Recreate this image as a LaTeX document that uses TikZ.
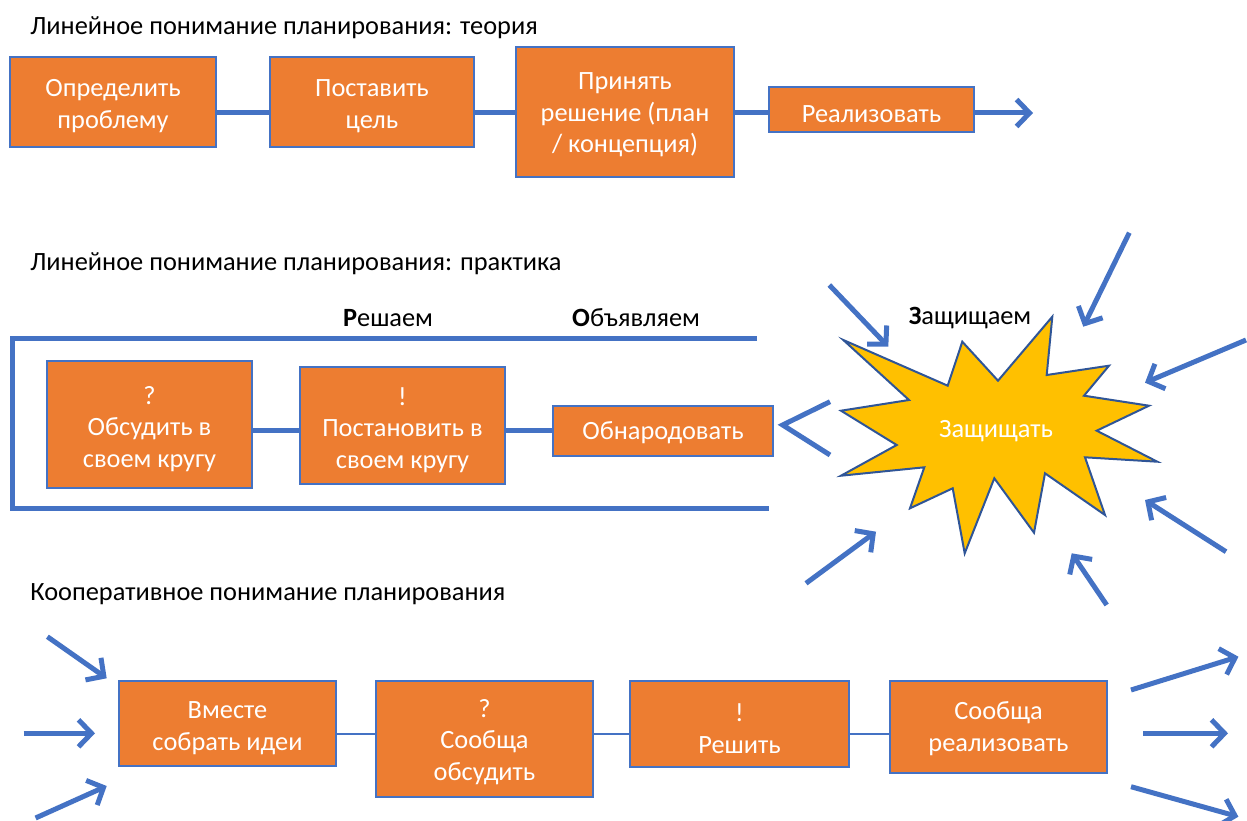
\documentclass[tikz,border=0pt]{standalone}
\usepackage{fontspec}
\setmainfont{Carlito}
\usetikzlibrary{arrows.meta}
\definecolor{boxor}{HTML}{ED7D31}
\definecolor{lnblue}{HTML}{4472C4}
\definecolor{stary}{HTML}{FFC000}
\definecolor{stard}{HTML}{2F5597}
\begin{document}
\begin{tikzpicture}[x=0.2mm,y=-0.2mm,
  every node/.style={font=\fontsize{15}{17.9}\selectfont},
  obox/.style={draw=lnblue, line width=0.35mm, fill=boxor, inner sep=0pt},
  btxt/.style={text=white, align=center, inner sep=0pt},
  conn/.style={draw=lnblue, line width=1mm},
  thinconn/.style={draw=lnblue, line width=0.3mm},
  arr/.style={draw=lnblue, line width=1mm, -{Straight Barb[length=2.6mm,width=5.4mm]}},
  ttl/.style={anchor=west, text=black, inner sep=0pt},
  lbl/.style={text=black, inner sep=0pt},
]
\useasboundingbox (0,0) rectangle (1247,821);

% ---------- Section 1 ----------
\node[ttl] (titleA) at (30,28) {Линейное понимание планирования: теория};
\node[obox, minimum width=41.2mm, minimum height=18mm] (A) at (113,102) {};
\node[obox, minimum width=40.8mm, minimum height=18mm] (B) at (372,102) {};
\node[obox, minimum width=43.6mm, minimum height=26mm] (C) at (625,112) {};
\node[obox, minimum width=41mm, minimum height=9mm] (D) at (871.5,109.5) {};
\node[btxt] (At) at ([yshift=-0.8mm]A.center) {Определить\\проблему};
\node[btxt] (Bt) at ([yshift=-0.8mm]B.center) {Поставить\\цель};
\node[btxt] (Ct) at ([yshift=-0.6mm]C.center) {Принять\\решение (план\\/ концепция)};
\node[btxt] (Dt) at ([yshift=-0.9mm]D.center) {Реализовать};
\coordinate (ly1) at (0,113);
\coordinate (endD) at (1033,113);
\draw[conn] (A.east |- ly1) -- (B.west |- ly1);
\draw[conn] (B.east |- ly1) -- (C.west |- ly1);
\draw[conn] (C.east |- ly1) -- (D.west |- ly1);
\draw[arr] (D.east |- ly1) -- (endD);

% ---------- Section 2 ----------
\node[ttl] (titleB) at (30,264) {Линейное понимание планирования: практика};
\node[lbl] (lblR) at (388,318) {\textbf{Р}ешаем};
\node[lbl] (lblO) at (636,318) {\textbf{О}бъявляем};
\coordinate (brTop) at (757,338);
\coordinate (brTL) at (12,338);
\coordinate (brBL) at (12,508);
\coordinate (brBot) at (769,508);
\draw[conn] (brTop) -- (brTL) -- (brBL) -- (brBot);
\node[obox, minimum width=41mm, minimum height=25.4mm] (E) at (149.5,424.5) {};
\node[obox, minimum width=41mm, minimum height=23.4mm] (F) at (402.5,425.5) {};
\node[obox, minimum width=44mm, minimum height=10mm] (G) at (663,431) {};
\node[btxt] (Et) at ([yshift=-0.9mm]E.center) {?\\Обсудить в\\своем кругу};
\node[btxt] (Ft) at ([yshift=-0.9mm]F.center) {!\\Постановить в\\своем кругу};
\node[btxt] (Gt) at ([yshift=-0.4mm]G.center) {Обнародовать};
\coordinate (ly2) at (0,430.5);
\draw[conn] (E.east |- ly2) -- (F.west |- ly2);
\draw[conn] (F.east |- ly2) -- (G.west |- ly2);

% chevron in front of the star
\coordinate (chA) at (830,401.7);
\coordinate (chB) at (782.7,425);
\coordinate (chC) at (830,455);
\draw[conn] (chA) -- (chB) -- (chC);

% star
\draw[draw=stard, line width=0.4mm, fill=stary, line join=miter]
  (843.3,340) -- (947.7,385.7) -- (962.3,341.7) -- (998,380.7) -- (1052.3,316.7)
  -- (1046.7,375) -- (1109,365.7) -- (1084,395.7) -- (1149,405.7) -- (1096.7,430.7)
  -- (1157.3,461.7) -- (1085,457.3) -- (1105,515) -- (1045,473.3) -- (1034,532.7)
  -- (994.3,478.3) -- (964.7,553.3) -- (952.7,488.3) -- (910,508.3) -- (924.3,467.3)
  -- (841,475.7) -- (896.7,445) -- (841,410.7) -- (909,400) -- cycle;
\node[text=white, inner sep=0pt] (star) at (996,431) {Защищать};
\node[lbl] (lblZ) at (970,318) {\textbf{З}ащищаем};

% arrows pointing at the star
\coordinate (s1a) at (829.3,285);   \coordinate (s1b) at (888.3,346.7);
\coordinate (s2a) at (1129.3,232.7);\coordinate (s2b) at (1083.3,326.7);
\coordinate (s3a) at (1246,340);    \coordinate (s3b) at (1145,382.7);
\coordinate (s4a) at (1226,551.7);  \coordinate (s4b) at (1145,500);
\coordinate (s5a) at (1106.7,605);  \coordinate (s5b) at (1071.7,553.3);
\coordinate (s6a) at (806,583.3);   \coordinate (s6b) at (876,531.7);
\draw[arr] (s1a) -- (s1b);
\draw[arr] (s2a) -- (s2b);
\draw[arr] (s3a) -- (s3b);
\draw[arr] (s4a) -- (s4b);
\draw[arr] (s5a) -- (s5b);
\draw[arr] (s6a) -- (s6b);

% ---------- Section 3 ----------
\node[ttl] (titleC) at (30,594) {Кооперативное понимание планирования};
\node[obox, minimum width=43.4mm, minimum height=17mm] (H) at (227.5,723.5) {};
\node[obox, minimum width=43.4mm, minimum height=23.2mm] (I) at (484.5,739) {};
\node[obox, minimum width=43.8mm, minimum height=17.2mm] (J) at (739.5,724) {};
\node[obox, minimum width=43.4mm, minimum height=18.4mm] (K) at (998.5,727) {};
\node[btxt] (Ht) at ([yshift=-0.9mm]H.center) {Вместе\\собрать идеи};
\node[btxt] (It) at ([yshift=-0.6mm]I.center) {?\\Сообща\\обсудить};
\node[btxt] (Jt) at ([yshift=-0.9mm]J.center) {!\\Решить};
\node[btxt] (Kt) at ([yshift=-0.3mm]K.center) {Сообща\\реализовать};
\coordinate (ly3) at (0,734);
\draw[thinconn] (H.east |- ly3) -- (I.west |- ly3);
\draw[thinconn] (I.east |- ly3) -- (J.west |- ly3);
\draw[thinconn] (J.east |- ly3) -- (K.west |- ly3);

% incoming arrows
\coordinate (l1a) at (47.4,636.7);  \coordinate (l1b) at (106.7,678.3);
\coordinate (l2a) at (23.7,733.3);  \coordinate (l2b) at (95,733.3);
\coordinate (l3a) at (35.6,818);    \coordinate (l3b) at (106.7,786);
\draw[arr] (l1a) -- (l1b);
\draw[arr] (l2a) -- (l2b);
\draw[arr] (l3a) -- (l3b);

% outgoing arrows
\coordinate (r1a) at (1131,690);    \coordinate (r1b) at (1238.4,656.7);
\coordinate (r2a) at (1143.4,733.3);\coordinate (r2b) at (1228,733.3);
\coordinate (r3a) at (1131,786.7);  \coordinate (r3b) at (1238.4,816.7);
\draw[arr] (r1a) -- (r1b);
\draw[arr] (r2a) -- (r2b);
\draw[arr] (r3a) -- (r3b);
\end{tikzpicture}
\end{document}
